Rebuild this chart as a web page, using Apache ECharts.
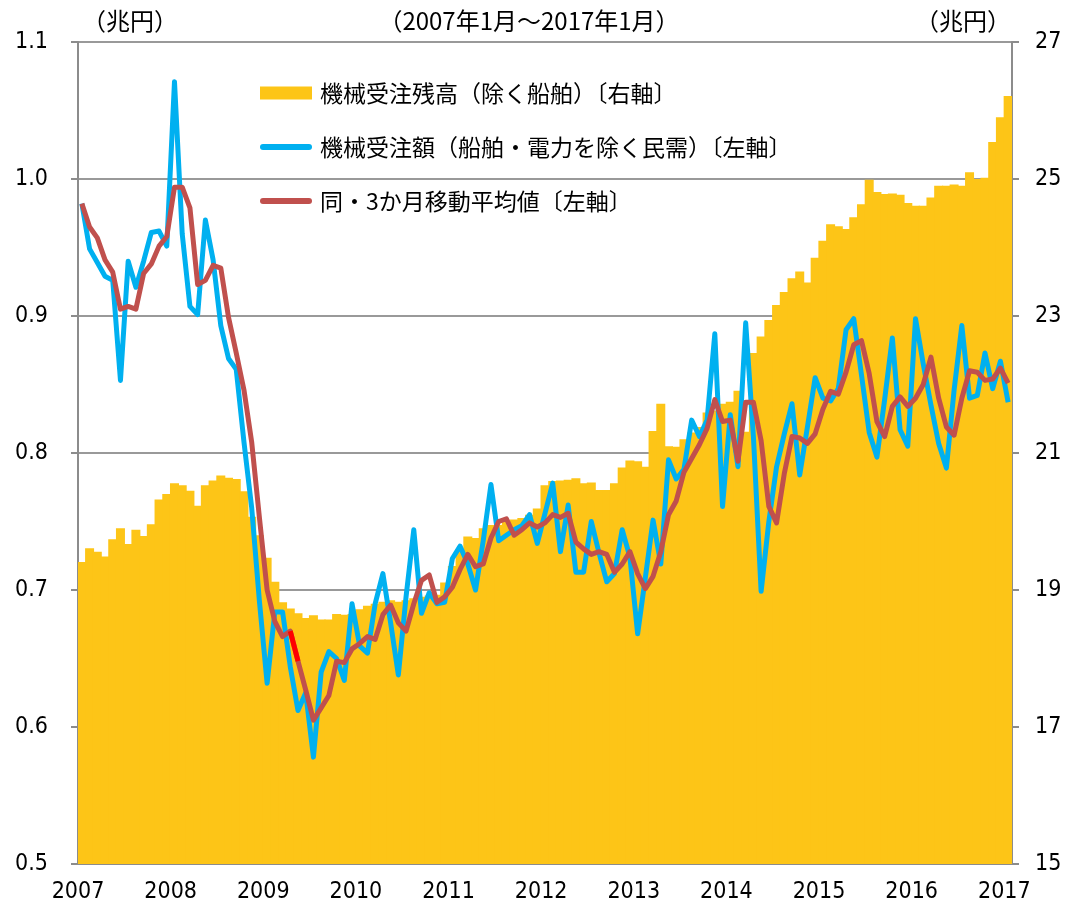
<!DOCTYPE html>
<html>
<head>
<meta charset="utf-8">
<script src="https://cdn.jsdelivr.net/npm/echarts@6/dist/echarts.min.js"></script>
<style>
  html, body { margin: 0; padding: 0; background: #fff; }
  #chart { width: 1075px; height: 904px; }
</style>
</head>
<body>
<div id="chart"></div>
<script>
var years = ['2007', '2008', '2009', '2010', '2011', '2012', '2013', '2014', '2015', '2016', '2017'];

// 機械受注残高（除く船舶） 兆円, 2007/1 - 2017/1
var backlog = [
  19.41, 19.61, 19.56, 19.49, 19.74, 19.90, 19.67, 19.88, 19.79, 19.96, 20.32, 20.40,
  20.56, 20.53, 20.45, 20.23, 20.53, 20.60, 20.67, 20.64, 20.62, 20.44, 20.07, 19.80,
  19.47, 19.12, 18.82, 18.73, 18.66, 18.59, 18.63, 18.57, 18.57, 18.65, 18.64, 18.65,
  18.72, 18.77, 18.80, 18.83, 18.85, 18.83, 18.85, 18.88, 18.90, 18.92, 18.93, 19.11,
  19.35, 19.60, 19.78, 19.76, 19.90, 19.95, 19.95, 20.00, 20.03, 20.05, 20.10, 20.19,
  20.53, 20.59, 20.60, 20.61, 20.63, 20.56, 20.57, 20.46, 20.46, 20.56, 20.79, 20.89,
  20.88, 20.80, 21.32, 21.72, 21.10, 21.09, 21.20, 21.30, 21.38, 21.59, 21.62, 21.72,
  21.75, 21.91, 21.31, 22.46, 22.70, 22.94, 23.16, 23.35, 23.55, 23.65, 23.49, 23.85,
  24.10, 24.34, 24.31, 24.27, 24.44, 24.63, 24.99, 24.81, 24.78, 24.79, 24.77, 24.65,
  24.61, 24.61, 24.73, 24.90, 24.90, 24.92, 24.90, 25.10, 25.00, 25.02, 25.54, 25.90,
  26.21
];

// 機械受注額（船舶・電力を除く民需） 兆円
var orders = [
  0.982, 0.949, 0.939, 0.929, 0.926, 0.853, 0.940, 0.921, 0.940, 0.961, 0.962, 0.951,
  1.071, 0.960, 0.907, 0.901, 0.970, 0.941, 0.893, 0.869, 0.861, 0.808, 0.760, 0.692,
  0.632, 0.684, 0.684, 0.644, 0.612, 0.625, 0.578, 0.640, 0.655, 0.650, 0.634, 0.690,
  0.659, 0.654, 0.690, 0.712, 0.676, 0.638, 0.695, 0.744, 0.683, 0.698, 0.690, 0.691,
  0.723, 0.732, 0.719, 0.700, 0.736, 0.777, 0.736, 0.740, 0.744, 0.747, 0.755, 0.734,
  0.756, 0.778, 0.728, 0.762, 0.713, 0.713, 0.750, 0.727, 0.706, 0.712, 0.744, 0.724,
  0.668, 0.709, 0.751, 0.719, 0.795, 0.781, 0.788, 0.824, 0.812, 0.824, 0.887, 0.761,
  0.828, 0.790, 0.895, 0.812, 0.699, 0.750, 0.790, 0.814, 0.836, 0.784, 0.819, 0.855,
  0.840, 0.838, 0.847, 0.890, 0.898, 0.857, 0.815, 0.797, 0.839, 0.884, 0.817, 0.805,
  0.898, 0.865, 0.835, 0.807, 0.789, 0.846, 0.893, 0.840, 0.842, 0.873, 0.847, 0.867,
  0.837
];

// 同・3か月移動平均値
var avg3 = [
  0.982, 0.965, 0.957, 0.941, 0.932, 0.905, 0.907, 0.905, 0.931, 0.938, 0.951, 0.958,
  0.994, 0.994, 0.979, 0.923, 0.926, 0.937, 0.935, 0.899, 0.873, 0.846, 0.808, 0.753,
  0.700, 0.677, 0.666, 0.670, 0.648, 0.627, 0.605, 0.614, 0.623, 0.648, 0.647, 0.657,
  0.661, 0.666, 0.664, 0.682, 0.689, 0.676, 0.670, 0.690, 0.707, 0.711, 0.691, 0.695,
  0.702, 0.715, 0.726, 0.717, 0.719, 0.738, 0.750, 0.752, 0.740, 0.744, 0.749, 0.746,
  0.749, 0.755, 0.753, 0.756, 0.735, 0.730, 0.726, 0.728, 0.726, 0.713, 0.719, 0.728,
  0.712, 0.701, 0.710, 0.728, 0.755, 0.765, 0.786, 0.796, 0.806, 0.818, 0.839, 0.823,
  0.824, 0.794, 0.837, 0.837, 0.809, 0.761, 0.749, 0.785, 0.812, 0.811, 0.807, 0.814,
  0.832, 0.845, 0.843, 0.859, 0.879, 0.882, 0.858, 0.823, 0.812, 0.834, 0.841, 0.834,
  0.840, 0.850, 0.870, 0.840, 0.819, 0.813, 0.840, 0.860, 0.859, 0.853, 0.854, 0.862,
  0.851
];

var months = [];
for (var i = 0; i < backlog.length; i++) {
  months.push(years[Math.floor(i / 12)] + '/' + (i % 12 + 1));
}
// the short bright red piece of the average line (2009/4 - 2009/5)
var avgMark = avg3.map(function (v, i) { return (i === 27 || i === 28) ? v : '-'; });

var jp = "'Noto Sans CJK JP', sans-serif";
var num = "'Liberation Sans Narrow', 'DejaVu Sans Condensed', 'Roboto', sans-serif";
var gray = '#8c8c8c';
var lineIcon = 'path://M3,0 L49,0 A3,3 0 0 1 49,6 L3,6 A3,3 0 0 1 3,0 Z';

var myChart = echarts.init(document.getElementById('chart'));
var option = {
  animation: false,
  backgroundColor: '#fff',
  grid: { left: 78, right: 63, top: 42, bottom: 40 },
  graphic: [
    { type: 'text', x: 130, y: 21, style: { text: '（兆円）', font: '24px ' + jp, fill: '#000', align: 'center', verticalAlign: 'middle' } },
    { type: 'text', x: 529, y: 21, style: { text: '（2007年1月～2017年1月）', font: '24px ' + jp, fill: '#000', align: 'center', verticalAlign: 'middle' } },
    { type: 'text', x: 963, y: 21, style: { text: '（兆円）', font: '24px ' + jp, fill: '#000', align: 'center', verticalAlign: 'middle' } }
  ],
  legend: {
    data: [
      { name: '機械受注残高（除く船舶）〔右軸〕', icon: 'rect' },
      { name: '機械受注額（船舶・電力を除く民需）〔左軸〕', icon: lineIcon },
      { name: '同・3か月移動平均値〔左軸〕', icon: lineIcon }
    ],
    orient: 'vertical',
    left: 255,
    top: 76,
    itemWidth: 52,
    itemHeight: 13,
    itemGap: 30,
    textStyle: { fontSize: 23, lineHeight: 24, color: '#000', fontFamily: jp, padding: [0, 0, 0, 3] }
  },
  xAxis: {
    type: 'category',
    data: months,
    boundaryGap: true,
    axisLine: { lineStyle: { color: gray, width: 2 } },
    axisTick: {
      interval: function (i) { return i % 12 === 0; },
      length: 8,
      lineStyle: { color: gray, width: 2 }
    },
    axisLabel: {
      interval: function (i) { return i % 12 === 0; },
      formatter: function (v, i) { return years[i / 12]; },
      padding: [0, 7.7, 0, 0],
      margin: 17,
      fontSize: 23,
      fontFamily: num,
      color: '#000'
    },
    splitLine: { show: false }
  },
  yAxis: [
    {
      type: 'value',
      min: 0.5,
      max: 1.1,
      interval: 0.1,
      axisLine: { show: true, lineStyle: { color: gray, width: 2 } },
      axisTick: { show: true, length: 7, lineStyle: { color: gray, width: 2 } },
      axisLabel: { formatter: function (v) { return v.toFixed(1); }, margin: 30, fontSize: 23, fontFamily: num, color: '#000' },
      splitLine: { show: true, lineStyle: { color: '#999', width: 2 } }
    },
    {
      type: 'value',
      min: 15,
      max: 27,
      interval: 2,
      axisLine: { show: true, lineStyle: { color: gray, width: 2 } },
      axisTick: { show: true, length: 7, lineStyle: { color: gray, width: 2 } },
      axisLabel: { margin: 23, fontSize: 23, fontFamily: num, color: '#000' },
      splitLine: { show: false }
    }
  ],
  series: [
    {
      name: '機械受注残高（除く船舶）〔右軸〕',
      type: 'bar',
      yAxisIndex: 1,
      data: backlog,
      barWidth: 9,
      itemStyle: { color: '#FDC517' },
      z: 1
    },
    {
      name: '機械受注額（船舶・電力を除く民需）〔左軸〕',
      type: 'line',
      yAxisIndex: 0,
      data: orders,
      symbol: 'none',
      itemStyle: { color: '#00B0F0' },
      lineStyle: { color: '#00B0F0', width: 5, join: 'round' },
      z: 3
    },
    {
      name: '同・3か月移動平均値〔左軸〕',
      type: 'line',
      yAxisIndex: 0,
      data: avg3,
      symbol: 'none',
      itemStyle: { color: '#C0504D' },
      lineStyle: { color: '#C0504D', width: 5, join: 'round' },
      z: 4
    },
    {
      name: 'mark',
      type: 'line',
      yAxisIndex: 0,
      data: avgMark,
      symbol: 'none',
      lineStyle: { color: '#FF0000', width: 5 },
      z: 5
    }
  ]
};
myChart.setOption(option);
</script>
</body>
</html>
